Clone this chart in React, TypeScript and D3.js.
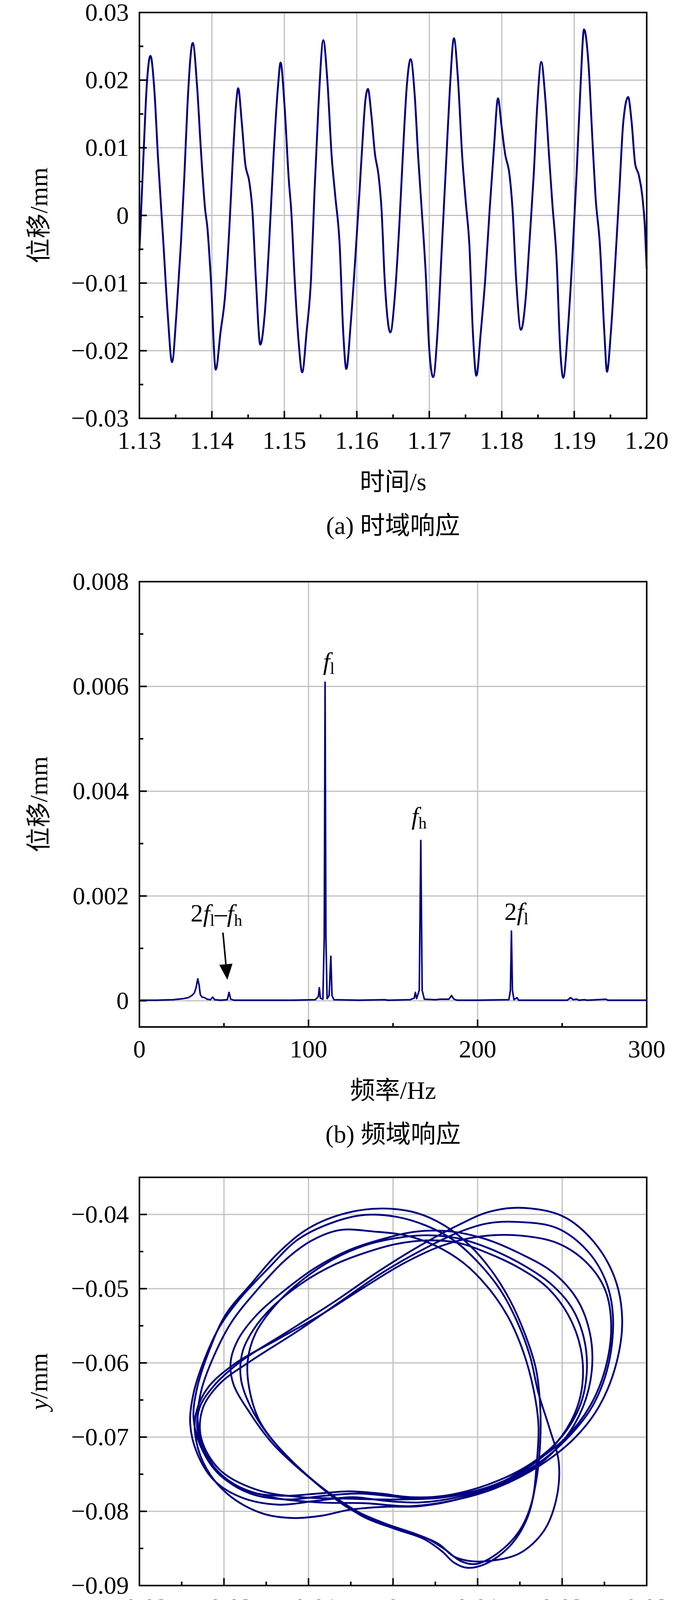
import React from "react";
import * as d3 from "d3";

// (a) time response, [t (s), displacement (mm)]
const timeSeries: [number, number][] = [
  [1.13, -0.0053], [1.13055, 0.0086], [1.13103, 0.0195], [1.13152, 0.0236], [1.13207, 0.0184],
  [1.13256, 0.0086], [1.13329, -0.0038], [1.1339, -0.0145], [1.1345, -0.0217], [1.13511, -0.0145],
  [1.13572, -0.0043], [1.13621, 0.006], [1.13663, 0.0163], [1.13736, 0.0255], [1.13797, 0.0189],
  [1.13846, 0.0101], [1.13907, 0.0009], [1.13937, -0.0017], [1.13986, -0.0094], [1.14053, -0.0228],
  [1.1412, -0.0172], [1.14181, -0.012], [1.14242, -0.0017], [1.1429, 0.0086], [1.14333, 0.0163],
  [1.14363, 0.0188], [1.14412, 0.0138], [1.14461, 0.0076], [1.14516, 0.005], [1.14558, 0.0009],
  [1.14607, -0.0094], [1.14668, -0.0191], [1.14729, -0.0146], [1.14789, -0.0043], [1.1485, 0.0086],
  [1.14911, 0.0189], [1.14948, 0.0226], [1.15002, 0.0163], [1.15063, 0.005], [1.15094, 0.0009],
  [1.15142, -0.0094], [1.15197, -0.0187], [1.15246, -0.0232], [1.15307, -0.0172], [1.15368, -0.0094],
  [1.15416, 0.0035], [1.15471, 0.0163], [1.15538, 0.0259], [1.15593, 0.02], [1.15654, 0.0086],
  [1.15702, 0.0029], [1.15763, -0.0043], [1.15812, -0.0172], [1.15855, -0.0227], [1.15915, -0.0161],
  [1.15976, -0.0068], [1.16037, 0.0035], [1.1608, 0.0112], [1.16116, 0.0168], [1.16153, 0.0187],
  [1.16201, 0.0148], [1.1625, 0.0091], [1.16299, 0.006], [1.16341, 0.0009], [1.16384, -0.0094],
  [1.16463, -0.0173], [1.16524, -0.012], [1.16585, -0.0017], [1.16646, 0.0112], [1.16688, 0.0189],
  [1.16743, 0.0231], [1.16798, 0.0179], [1.16847, 0.0086], [1.16895, 0.0009], [1.1695, -0.0084],
  [1.16999, -0.0197], [1.17054, -0.0239], [1.17114, -0.0172], [1.17175, -0.0043], [1.17236, 0.0086],
  [1.17285, 0.0189], [1.1734, 0.0262], [1.17394, 0.0204], [1.17455, 0.0086], [1.17504, 0.0019],
  [1.17553, -0.0043], [1.17601, -0.0172], [1.1765, -0.0237], [1.17711, -0.0172], [1.17772, -0.0094],
  [1.17833, 0.0009], [1.17893, 0.0101], [1.17948, 0.0173], [1.17997, 0.0132], [1.18046, 0.0091],
  [1.18107, 0.006], [1.18149, 0.0009], [1.18198, -0.0094], [1.18265, -0.0169], [1.18332, -0.012],
  [1.1838, -0.0043], [1.18441, 0.006], [1.1849, 0.0163], [1.18545, 0.0227], [1.186, 0.0174],
  [1.18654, 0.0086], [1.18697, 0.0019], [1.18758, -0.0068], [1.18806, -0.0197], [1.18849, -0.024],
  [1.1891, -0.0172], [1.18971, -0.0068], [1.19032, 0.006], [1.19086, 0.0189], [1.19135, 0.0275],
  [1.19196, 0.0225], [1.19251, 0.0112], [1.19293, 0.0029], [1.19354, -0.0043], [1.19415, -0.0172],
  [1.19452, -0.0231], [1.19506, -0.0172], [1.19567, -0.0068], [1.19622, 0.0035], [1.19677, 0.0138],
  [1.19744, 0.0175], [1.19792, 0.0138], [1.19841, 0.0076], [1.1989, 0.006], [1.19939, 0.0029],
  [1.19975, -0.0017], [1.2, -0.0079],
];

// (b) spectrum, [frequency (Hz), amplitude (mm)]
const spectrum: [number, number][] = [
  [0, 0.00001], [10, 0.00001], [20, 0.00002], [26, 0.00004], [29, 0.00006], [31, 0.0001],
  [32.5, 0.00015], [33.5, 0.00025], [34.5, 0.00042], [35.3, 0.0003], [36, 0.00012], [37, 0.00007],
  [38.5, 0.00006], [40, 0.00003], [42, 0.00002], [43.3, 0.00007], [44.5, 0.00002], [48, 0.00001],
  [52, 0.00002], [53, 0.00016], [54, 0.00003], [56, 0.00001], [70, 0.00001], [90, 0.00001],
  [104, 0.00002], [105.8, 0.00008], [106.4, 0.00025], [107, 0.00005], [108.5, 0.00003],
  [109.3, 0.0012], [109.8, 0.00608], [110.3, 0.0012], [111, 0.00004], [112.2, 0.0001],
  [113.2, 0.00085], [113.9, 0.0001], [115, 0.00002], [130, 0.00001], [145, 0.00002], [147, 0.00001],
  [160, 0.00002], [162.5, 0.00005], [163.2, 0.00016], [163.9, 0.00004], [165.5, 0.0002],
  [166.4, 0.00306], [167.2, 0.0002], [168.5, 0.00003], [175, 0.00002], [178, 0.00003], [183, 0.00003],
  [184.6, 0.0001], [186, 0.00003], [188, 0.00001], [200, 0.00001], [218.5, 0.00002], [219.4, 0.0002],
  [220, 0.00133], [220.6, 0.0002], [221.5, 0.00002], [223.3, 0.00006], [224.3, 0.00001], [240, 0.00001],
  [253, 0.00001], [255, 0.00006], [256.5, 0.00002], [258.5, 0.00003], [260, 0.00001], [263, 0.00002],
  [265, 0.00001], [276, 0.00003], [277, 0.00001], [300, 0.00001],
];

// (c) shaft-centre orbit, traced strands [x (mm), y (mm)]
const orbitLoopA: [number, number][] = [
  [0.0076, -0.0415], [0.0112, -0.0397], [0.0149, -0.0391], [0.02, -0.0402], [0.0236, -0.0435],
  [0.0262, -0.0485], [0.0271, -0.0541], [0.0264, -0.0601], [0.0244, -0.0658], [0.0215, -0.0701],
  [0.0174, -0.0738], [0.0123, -0.0768], [0.0076, -0.0784], [0.0021, -0.0793], [-0.0034, -0.0789],
  [-0.0088, -0.0788], [-0.0143, -0.0781], [-0.0187, -0.0764], [-0.0216, -0.0734], [-0.0231, -0.0694],
  [-0.0229, -0.0661], [-0.0212, -0.0631], [-0.018, -0.0598], [-0.0125, -0.0558], [-0.007, -0.0518],
  [-0.0015, -0.0475], [0.0032, -0.0442],
];
const orbitLoopB: [number, number][] = [
  [0.0112, -0.0412], [0.0145, -0.041], [0.0193, -0.0418], [0.0229, -0.0448], [0.0251, -0.0488],
  [0.026, -0.0535], [0.0255, -0.0601], [0.0236, -0.0658], [0.0204, -0.0704], [0.0164, -0.0741],
  [0.0112, -0.0768], [0.0061, -0.0781], [0.0003, -0.0784], [-0.0052, -0.0783], [-0.0107, -0.0781],
  [-0.0161, -0.0771], [-0.0205, -0.0744], [-0.0227, -0.0701], [-0.0225, -0.0661], [-0.0205, -0.0628],
  [-0.0169, -0.0598], [-0.0114, -0.0558], [-0.0063, -0.0518], [-0.0012, -0.0478], [0.0039, -0.0445],
  [0.008, -0.0423],
];
const orbitLoopC: [number, number][] = [
  [0.0101, -0.043], [0.0145, -0.0428], [0.0193, -0.0438], [0.0229, -0.0465], [0.0251, -0.0502],
  [0.0258, -0.0551], [0.0251, -0.0608], [0.0233, -0.0658], [0.0204, -0.0701], [0.0167, -0.0734],
  [0.0123, -0.0764], [0.0076, -0.0784], [0.0032, -0.0793], [-0.0012, -0.0794], [-0.0052, -0.0798],
  [-0.0085, -0.0806], [-0.0118, -0.0809], [-0.0154, -0.0803], [-0.0191, -0.0781], [-0.0216, -0.0751],
  [-0.0231, -0.0714], [-0.0234, -0.0674], [-0.022, -0.0635], [-0.0187, -0.0601], [-0.0136, -0.0568],
  [-0.0085, -0.0535], [-0.0034, -0.0498], [0.0014, -0.0465], [0.0058, -0.0442],
];
const orbitLoopD1: [number, number][] = [
  [-0.0012, -0.0392], [0.0028, -0.0398], [0.0061, -0.0415], [0.0091, -0.0442], [0.0116, -0.0475],
  [0.0138, -0.0515], [0.0156, -0.0561], [0.0169, -0.0608], [0.0174, -0.0658], [0.0174, -0.0708],
  [0.0169, -0.0761], [0.0158, -0.0811], [0.0138, -0.0847], [0.0109, -0.0871], [0.0087, -0.0876],
  [0.0072, -0.0869], [0.0058, -0.0854], [0.0036, -0.0837], [0.0003, -0.0824], [-0.0034, -0.0808],
  [-0.0066, -0.0784], [-0.0099, -0.0754], [-0.0132, -0.0718], [-0.0158, -0.0678], [-0.017, -0.0635],
  [-0.0172, -0.0598], [-0.0163, -0.0561], [-0.0139, -0.0522], [-0.0107, -0.0488], [-0.007, -0.046],
  [-0.0034, -0.0442], [0.0003, -0.0432], [0.0039, -0.0428], [0.0076, -0.0432], [0.0112, -0.0445],
  [0.0149, -0.0465], [0.0185, -0.0492], [0.0211, -0.0525], [0.0226, -0.0568], [0.0229, -0.0615],
  [0.022, -0.0661], [0.0196, -0.0704], [0.016, -0.0738], [0.0112, -0.0764], [0.0061, -0.0779],
  [0.0021, -0.0781], [-0.0015, -0.0776], [-0.0052, -0.0773], [-0.0088, -0.0776], [-0.0132, -0.0779],
  [-0.0172, -0.0773], [-0.0205, -0.0751], [-0.0227, -0.0714], [-0.0236, -0.0674], [-0.0232, -0.0635],
  [-0.0218, -0.0585], [-0.0198, -0.0535], [-0.0169, -0.0495], [-0.0136, -0.0452], [-0.0099, -0.0418],
  [-0.0055, -0.0398],
];
const orbitLoopD2: [number, number][] = [
  [-0.0037, -0.0401], [0.0003, -0.0403], [0.0039, -0.0415], [0.0072, -0.0435], [0.0101, -0.0465],
  [0.0127, -0.0502], [0.0147, -0.0545], [0.0162, -0.0591], [0.0172, -0.0641], [0.0185, -0.0688],
  [0.0196, -0.0734], [0.0193, -0.0784], [0.0178, -0.0827], [0.0149, -0.0857], [0.0112, -0.0867],
  [0.0091, -0.0867], [0.0072, -0.0861], [0.0054, -0.0844], [0.0028, -0.0831], [-0.0008, -0.0817],
  [-0.0041, -0.0801], [-0.0077, -0.0774], [-0.011, -0.0744], [-0.0143, -0.0708], [-0.0169, -0.0668],
  [-0.0189, -0.0628], [-0.0192, -0.0598], [-0.0183, -0.0568], [-0.0161, -0.0535], [-0.0128, -0.0502],
  [-0.0092, -0.0472], [-0.0052, -0.0448], [-0.0012, -0.0433], [0.0028, -0.0423], [0.0069, -0.0423],
  [0.0109, -0.0433], [0.0149, -0.0452], [0.0189, -0.0478], [0.0218, -0.0515], [0.0233, -0.0561],
  [0.0235, -0.0611], [0.0224, -0.0661], [0.0202, -0.0704], [0.0171, -0.0738], [0.0127, -0.0764],
  [0.0076, -0.0781], [0.0032, -0.0788], [-0.0008, -0.0786], [-0.0048, -0.0781], [-0.0092, -0.0786],
  [-0.0136, -0.0791], [-0.018, -0.0781], [-0.0212, -0.0758], [-0.0232, -0.0721], [-0.024, -0.0681],
  [-0.0236, -0.0641], [-0.0223, -0.0595], [-0.0205, -0.0551], [-0.018, -0.0512], [-0.0147, -0.0472],
  [-0.0114, -0.0435], [-0.0081, -0.0415],
];
const orbitLoopD3: [number, number][] = [
  [-0.0063, -0.0421], [-0.0023, -0.0423], [0.0014, -0.0428], [0.005, -0.0442], [0.0083, -0.0465],
  [0.0112, -0.0498], [0.0136, -0.0538], [0.0154, -0.0585], [0.0166, -0.0635], [0.0172, -0.0684],
  [0.017, -0.0734], [0.0164, -0.0788], [0.0149, -0.0827], [0.0123, -0.0857], [0.0098, -0.0871],
  [0.008, -0.0867], [0.0061, -0.0851], [0.0039, -0.0836], [0.001, -0.0826], [-0.0026, -0.0811],
  [-0.0055, -0.0794], [-0.0085, -0.0768], [-0.0118, -0.0734], [-0.0147, -0.0698], [-0.0169, -0.0658],
  [-0.018, -0.0621], [-0.0178, -0.0585], [-0.0165, -0.0555], [-0.0143, -0.0525], [-0.0107, -0.0492],
  [-0.007, -0.0468], [-0.0034, -0.0452], [0.0003, -0.044], [0.0039, -0.0435], [0.0076, -0.0438],
  [0.0112, -0.0452], [0.0149, -0.0472], [0.0182, -0.0498], [0.0207, -0.0535], [0.0222, -0.0581],
  [0.0224, -0.0628], [0.0215, -0.0668], [0.0193, -0.0708], [0.016, -0.0741], [0.0116, -0.0766],
  [0.0069, -0.0779], [0.0028, -0.0783], [-0.0008, -0.0779], [-0.0041, -0.0776], [-0.0081, -0.0779],
  [-0.0125, -0.0784], [-0.0169, -0.0776], [-0.0201, -0.0754], [-0.0223, -0.0718], [-0.0231, -0.0678],
  [-0.0227, -0.0638], [-0.0212, -0.0591], [-0.0191, -0.0545], [-0.0161, -0.0502], [-0.0128, -0.0462],
  [-0.0096, -0.0435],
];
const orbitLoops = [orbitLoopA, orbitLoopB, orbitLoopC, orbitLoopD1, orbitLoopD2, orbitLoopD3];

// ticks
const timeTicks = [1.13, 1.14, 1.15, 1.16, 1.17, 1.18, 1.19, 1.2];
const timeMinor = [1.135, 1.145, 1.155, 1.165, 1.175, 1.185, 1.195];
const dispTicks = [-0.03, -0.02, -0.01, 0, 0.01, 0.02, 0.03];
const dispMinor = [-0.025, -0.015, -0.005, 0.005, 0.015, 0.025];
const freqTicks = [0, 100, 200, 300];
const freqMinor = [50, 150, 250];
const ampTicks = [0, 0.002, 0.004, 0.006, 0.008];
const ampMinor = [0.001, 0.003, 0.005, 0.007];
const orbitXTicks = [-0.03, -0.02, -0.01, 0, 0.01, 0.02, 0.03];
const orbitXMinor = [-0.025, -0.015, -0.005, 0.005, 0.015, 0.025];
const orbitYTicks = [-0.09, -0.08, -0.07, -0.06, -0.05, -0.04];
const orbitYMinor = [-0.085, -0.075, -0.065, -0.055, -0.045];

const W = 1772;
const H = 4364;
const FONT = '"Liberation Serif", "Times New Roman", "Noto Sans CJK SC", serif';
const NAVY = "#000080";
const GRID = "#c0c0c0";
const FS = 64;
const SUB_FS = 42;
const SUB_DY = 11;

const fmtTrim = (p: number) => (v: number) => (Math.abs(v) < 1e-12 ? "0" : d3.format(`.${p}f`)(v));

const boxA = { left: 357, right: 1656, top: 32, bottom: 1071 };
const boxB = { left: 357, right: 1656, top: 1489, bottom: 2629 };
const boxC = { left: 357, right: 1656, top: 3014, bottom: 4059 };

const Panel = ({ box, x, y, xTicks, xMinor, yTicks, yMinor, xFmt, yFmt, xTitle, yTitle, caption, children }: any) => {
  const { left, right, top, bottom } = box;
  const cx = (left + right) / 2;
  const cy = (top + bottom) / 2;
  return (
    <g>
      {xTicks.map((v: number) => (
        <line key={"gx" + v} x1={x(v)} x2={x(v)} y1={top} y2={bottom} stroke={GRID} strokeWidth={3} />
      ))}
      {yTicks.map((v: number) => (
        <line key={"gy" + v} x1={left} x2={right} y1={y(v)} y2={y(v)} stroke={GRID} strokeWidth={3} />
      ))}
      {children}
      {xTicks.map((v: number) => (
        <line key={"tx" + v} x1={x(v)} x2={x(v)} y1={bottom} y2={bottom - 19} stroke="#000" strokeWidth={4} />
      ))}
      {xMinor.map((v: number) => (
        <line key={"mx" + v} x1={x(v)} x2={x(v)} y1={bottom} y2={bottom - 10} stroke="#000" strokeWidth={4} />
      ))}
      {yTicks.map((v: number) => (
        <line key={"ty" + v} x1={left} x2={left + 19} y1={y(v)} y2={y(v)} stroke="#000" strokeWidth={4} />
      ))}
      {yMinor.map((v: number) => (
        <line key={"my" + v} x1={left} x2={left + 10} y1={y(v)} y2={y(v)} stroke="#000" strokeWidth={4} />
      ))}
      <rect x={left} y={top} width={right - left} height={bottom - top} fill="none" stroke="#000" strokeWidth={4} />
      {xTicks.map((v: number) => (
        <text key={"lx" + v} x={x(v)} y={bottom + 78} textAnchor="middle">
          {xFmt(v)}
        </text>
      ))}
      {yTicks.map((v: number) => (
        <text key={"ly" + v} x={left - 27} y={y(v) + 21} textAnchor="end">
          {yFmt(v)}
        </text>
      ))}
      <text x={cx} y={bottom + 184} textAnchor="middle">
        {xTitle}
      </text>
      <text transform={`translate(99,${cy}) rotate(-90)`} textAnchor="middle" dominantBaseline="central">
        {yTitle}
      </text>
      <text x={cx} y={bottom + 296} textAnchor="middle">
        {caption}
      </text>
    </g>
  );
};

export default function App() {
  const xA = d3.scaleLinear().domain([1.13, 1.2]).range([boxA.left, boxA.right]);
  const yA = d3.scaleLinear().domain([-0.03, 0.03]).range([boxA.bottom, boxA.top]);
  const xB = d3.scaleLinear().domain([0, 300]).range([boxB.left, boxB.right]);
  const yB = d3.scaleLinear().domain([-0.0005, 0.008]).range([boxB.bottom, boxB.top]);
  const xC = d3.scaleLinear().domain([-0.03, 0.03]).range([boxC.left, boxC.right]);
  const yC = d3.scaleLinear().domain([-0.09, -0.035]).range([boxC.bottom, boxC.top]);

  const lineA = d3
    .line<[number, number]>()
    .x((d) => xA(d[0]))
    .y((d) => yA(d[1]))
    .curve(d3.curveMonotoneX);
  const lineB = d3
    .line<[number, number]>()
    .x((d) => xB(d[0]))
    .y((d) => yB(d[1]));
  const lineC = d3
    .line<[number, number]>()
    .x((d) => xC(d[0]))
    .y((d) => yC(d[1]))
    .curve(d3.curveCatmullRomClosed.alpha(0.5));

  // annotation arrow for 2f_l - f_h
  const tail = [xB(49.4), yB(0.0013)];
  const tip = [xB(52.0), yB(0.0004)];
  const ang = Math.atan2(tip[1] - tail[1], tip[0] - tail[0]);
  const hl = 40;
  const hw = 17;
  const base = [tip[0] - hl * Math.cos(ang), tip[1] - hl * Math.sin(ang)];
  const head = [
    tip,
    [base[0] + hw * Math.sin(ang), base[1] - hw * Math.cos(ang)],
    [base[0] - hw * Math.sin(ang), base[1] + hw * Math.cos(ang)],
  ];

  return (
    <svg
      width={W}
      height={H}
      viewBox={`0 0 ${W} ${H}`}
      style={{ position: "absolute", left: 0, top: 0, display: "block" }}
      fontFamily={FONT}
      fontSize={FS}
    >
      <rect width={W} height={H} fill="#fff" />

      <Panel
        box={boxA}
        x={xA}
        y={yA}
        xTicks={timeTicks}
        xMinor={timeMinor}
        yTicks={dispTicks}
        yMinor={dispMinor}
        xFmt={d3.format(".2f")}
        yFmt={fmtTrim(2)}
        xTitle="时间/s"
        yTitle="位移/mm"
        caption="(a) 时域响应"
      >
        <path d={lineA(timeSeries) ?? ""} fill="none" stroke={NAVY} strokeWidth={4.8} strokeLinejoin="round" />
      </Panel>

      <Panel
        box={boxB}
        x={xB}
        y={yB}
        xTicks={freqTicks}
        xMinor={freqMinor}
        yTicks={ampTicks}
        yMinor={ampMinor}
        xFmt={d3.format("d")}
        yFmt={fmtTrim(3)}
        xTitle="频率/Hz"
        yTitle="位移/mm"
        caption="(b) 频域响应"
      >
        <path d={lineB(spectrum) ?? ""} fill="none" stroke={NAVY} strokeWidth={4} strokeLinejoin="round" />
        <text x={xB(112)} y={yB(0.00632)} textAnchor="middle">
          <tspan fontStyle="italic">f</tspan>
          <tspan fontSize={SUB_FS} dy={SUB_DY}>l</tspan>
        </text>
        <text x={xB(165.4)} y={yB(0.00337)} textAnchor="middle">
          <tspan fontStyle="italic">f</tspan>
          <tspan fontSize={SUB_FS} dy={SUB_DY}>h</tspan>
        </text>
        <text x={xB(222.9)} y={yB(0.00154)} textAnchor="middle">
          <tspan>2</tspan>
          <tspan fontStyle="italic">f</tspan>
          <tspan fontSize={SUB_FS} dy={SUB_DY}>l</tspan>
        </text>
        <text x={xB(45.5)} y={yB(0.00151)} textAnchor="middle">
          <tspan>2</tspan>
          <tspan fontStyle="italic">f</tspan>
          <tspan fontSize={SUB_FS} dy={SUB_DY}>l</tspan>
          <tspan dy={-SUB_DY}>–</tspan>
          <tspan fontStyle="italic">f</tspan>
          <tspan fontSize={SUB_FS} dy={SUB_DY}>h</tspan>
        </text>
        <line x1={tail[0]} y1={tail[1]} x2={base[0]} y2={base[1]} stroke="#000" strokeWidth={4} />
        <polygon points={head.map((p) => p.join(",")).join(" ")} fill="#000" />
      </Panel>

      <Panel
        box={boxC}
        x={xC}
        y={yC}
        xTicks={orbitXTicks}
        xMinor={orbitXMinor}
        yTicks={orbitYTicks}
        yMinor={orbitYMinor}
        xFmt={fmtTrim(2)}
        yFmt={fmtTrim(2)}
        xTitle={
          <>
            <tspan fontStyle="italic">x</tspan>
            <tspan>/mm</tspan>
          </>
        }
        yTitle={
          <>
            <tspan fontStyle="italic">y</tspan>
            <tspan>/mm</tspan>
          </>
        }
        caption="(c) 轴心轨迹"
      >
        {orbitLoops.map((loop, i) => (
          <path key={i} d={lineC(loop) ?? ""} fill="none" stroke={NAVY} strokeWidth={4.6} />
        ))}
      </Panel>
    </svg>
  );
}
